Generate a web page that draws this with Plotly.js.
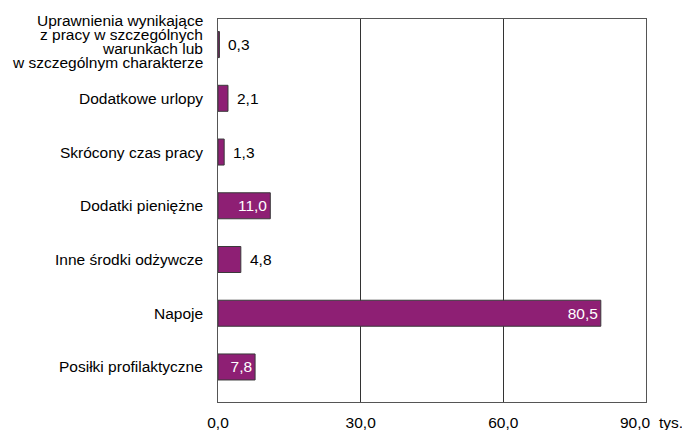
<!DOCTYPE html>
<html><head><meta charset="utf-8">
<script src="https://cdn.plot.ly/plotly-3.0.1.min.js"></script>
<style>html,body{margin:0;padding:0;background:#fff}#c{width:682px;height:430px}</style>
</head><body><div id="c"></div>
<script>
const categories = [
  "Uprawnienia wynikające z pracy w szczególnych warunkach lub w szczególnym charakterze",
  "Dodatkowe urlopy",
  "Skrócony czas pracy",
  "Dodatki pieniężne",
  "Inne środki odżywcze",
  "Napoje",
  "Posiłki profilaktyczne"
];
const categoryLines = [
  ["Uprawnienia wynikające", "z pracy w szczególnych", "warunkach lub", "w szczególnym charakterze"],
  ["Dodatkowe urlopy"],
  ["Skrócony czas pracy"],
  ["Dodatki pieniężne"],
  ["Inne środki odżywcze"],
  ["Napoje"],
  ["Posiłki profilaktyczne"]
];
const values = [0.3, 2.1, 1.3, 11.0, 4.8, 80.5, 7.8];
const tickVals = [0, 30, 60, 90];
const tickLabels = ["0,0", "30,0", "60,0", "90,0"];
const unitLabel = "tys.";

const FONT = "Liberation Sans, Arial, sans-serif";
const FS = 15.5;
const fmt = v => v.toFixed(1).replace(".", ",");
const isInside = v => v >= 7;

const trace = {
  type: "bar", orientation: "h",
  y: categories, x: values,
  text: values.map(v => isInside(v) ? fmt(v) : ""),
  textposition: values.map(v => isInside(v) ? "inside" : "none"),
  insidetextanchor: "end",
  constraintext: "none",
  insidetextfont: {color: "#ffffff", size: FS, family: FONT},
  marker: {color: "#8e1f74", line: {color: "#3a3a3a", width: 1}},
  width: 0.484,
  hoverinfo: "none"
};

const annotations = [];
values.forEach((v, i) => {
  if (!isInside(v)) {
    annotations.push({
      text: fmt(v), x: v, y: categories[i], xref: "x", yref: "y",
      xanchor: "left", yanchor: "middle", xshift: 7, showarrow: false,
      font: {size: FS, color: "#000", family: FONT}
    });
  }
});
categoryLines.forEach((lines, i) => {
  const n = lines.length, step = 14;
  const lift = n > 1 ? 3 : 0;
  lines.forEach((ln, j) => {
    annotations.push({
      text: ln, x: 0, y: categories[i], xref: "paper", yref: "y",
      xanchor: "right", yanchor: "middle", xshift: -13,
      yshift: ((n - 1) / 2 - j) * step + lift, showarrow: false, align: "right",
      font: {size: FS, color: "#000", family: FONT}
    });
  });
});
// last tick label drawn beside the unit, shifted left as in the reference
annotations.push({
  text: tickLabels[3], xref: "x", yref: "paper", x: tickVals[3], y: 0,
  xanchor: "center", yanchor: "top", xshift: -11, yshift: -10,
  showarrow: false, font: {size: FS, family: FONT}
});
annotations.push({
  text: unitLabel, xref: "paper", yref: "paper", x: 1, y: 0,
  xanchor: "left", yanchor: "top", xshift: 11, yshift: -10,
  showarrow: false, font: {size: FS, family: FONT}
});

const layout = {
  width: 682, height: 430,
  margin: {l: 218, r: 36, t: 19, b: 28},
  paper_bgcolor: "#fff", plot_bgcolor: "#fff",
  showlegend: false,
  font: {family: FONT, size: FS, color: "#000"},
  xaxis: {
    range: [0, 90], tickvals: tickVals,
    ticktext: tickLabels.map((t, i) => i === 3 ? "" : t),
    showgrid: true, gridcolor: "#333", gridwidth: 1,
    showline: true, linecolor: "#555", linewidth: 1, mirror: true,
    zeroline: false, ticks: "", ticklabelstandoff: 6, fixedrange: true,
    tickfont: {size: FS}
  },
  yaxis: {
    type: "category", categoryorder: "array", categoryarray: categories,
    range: [6.652, -0.476], showticklabels: false,
    showline: true, linecolor: "#555", linewidth: 1, mirror: true,
    showgrid: false, ticks: "", fixedrange: true
  },
  annotations: annotations
};
Plotly.newPlot("c", [trace], layout, {staticPlot: true, displayModeBar: false});
</script></body></html>
